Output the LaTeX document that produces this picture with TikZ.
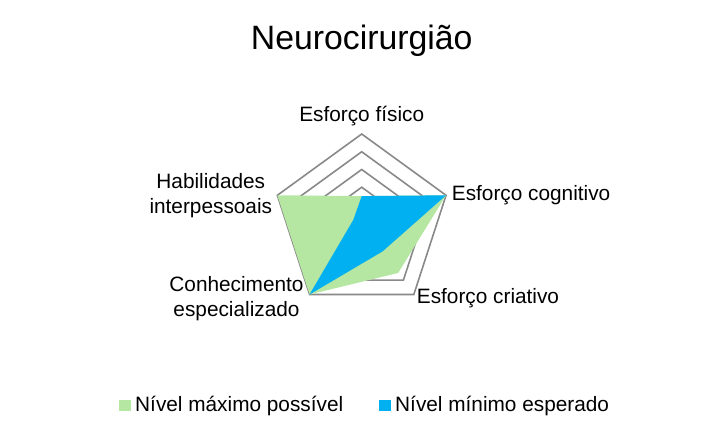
\documentclass[tikz,border=0pt]{standalone}
\usepackage{fontspec}
\setmainfont{Liberation Sans}
\definecolor{maxgreen}{RGB}{181,230,162}
\definecolor{minblue}{RGB}{0,176,240}
\definecolor{ringgray}{RGB}{137,137,137}
\tikzset{
  ring/.style={draw=ringgray,line width=1.6pt},
  axislabel/.style={inner sep=0pt,font=\fontsize{20.8}{25}\selectfont},
  legendbox/.style={inner sep=0pt,minimum width=12pt,minimum height=11.5pt},
}
\begin{document}
\begin{tikzpicture}[x=1pt,y=-1pt]
\useasboundingbox (0,0) rectangle (725,437);

\node[inner sep=0pt,anchor=base,font=\fontsize{33.8}{40}\selectfont] (title) at (361.7,49.3) {Neurocirurgião};

\begin{scope}[shift={(361.7,222.7)},x=17.74pt,y=-17.74pt]
% rings
\foreach \r in {1,...,5}
  \draw[ring] (-90:\r) -- (-18:\r) -- (54:\r) -- (126:\r) -- (198:\r) -- cycle;
% series
\fill[maxgreen] (-90:1.5) -- (-18:5) -- (54:3.5) -- (126:5) -- (198:5) -- cycle;
\fill[minblue] (-90:1.5) -- (-18:5) -- (54:2) -- (126:5) -- (198:0.5) -- cycle;
\end{scope}

\node[axislabel,anchor=base] (fisico) at (361.7,121.7) {Esforço físico};
\node[axislabel,anchor=base west] (cognitivo) at (451.7,200) {Esforço cognitivo};
\node[axislabel,anchor=base west] (criativo) at (416.7,303.3) {Esforço criativo};
\node[axislabel,align=center,anchor=base] (habilidades) at (210.8,213.3) {Habilidades\\interpessoais};
\node[axislabel,align=center,anchor=base] (conhecimento) at (236.5,316.7) {Conhecimento\\especializado};

\node[legendbox,fill=maxgreen,anchor=north west] (maxkey) at (118.3,399.3) {};
\node[axislabel,anchor=base west] (maxtext) at (135,411.7) {Nível máximo possível};
\node[legendbox,fill=minblue,anchor=north west] (minkey) at (378.3,399.3) {};
\node[axislabel,anchor=base west] (mintext) at (395,411.7) {Nível mínimo esperado};
\end{tikzpicture}
\end{document}
